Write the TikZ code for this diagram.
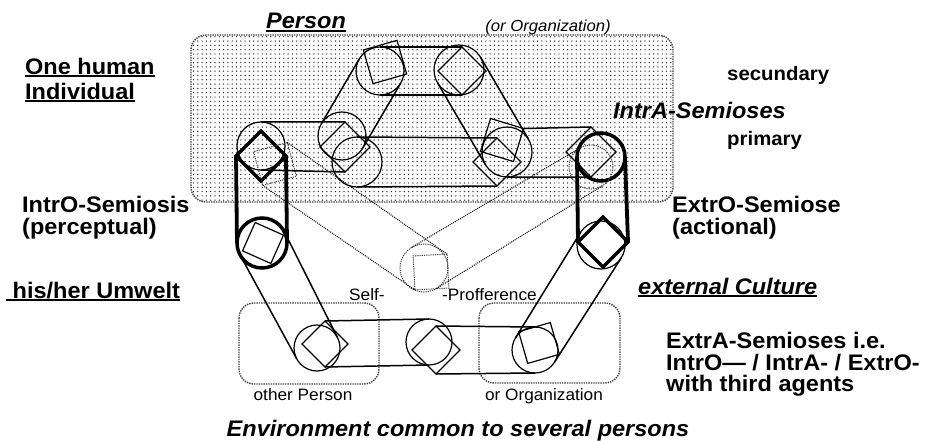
\documentclass[tikz,border=0pt]{standalone}
\usepackage{fontspec}
\setmainfont{Liberation Sans}[FakeStretch=1.045]
\usetikzlibrary{shapes.geometric,patterns.meta}

\newsavebox\ulbox
\newcommand{\ulabel}[1]{\sbox\ulbox{#1}\rlap{\rule[-2.6pt]{\wd\ulbox}{1.8pt}}\usebox\ulbox}
\newcommand{\lblfont}{\fontsize{22.5}{21.5}\selectfont\bfseries}
\newcommand{\smallfont}{\fontsize{16.5}{20}\selectfont}

\begin{document}
\begin{tikzpicture}[x=1pt, y=-1pt,
    ring/.style={circle, draw, line width=1.2pt, inner sep=0pt, outer sep=0pt, minimum size=48pt},
    fatring/.style={ring, line width=3.5pt},
    dotring/.style={ring, densely dotted, line width=1pt, draw=black!75},
    sq/.style={rectangle, draw, line width=1.2pt, inner sep=0pt, outer sep=0pt, minimum size=35pt},
    dotsq/.style={sq, densely dotted, line width=1pt, draw=black!75},
    dia/.style={diamond, draw, line width=1.2pt, inner sep=0pt, outer sep=0pt, minimum width=50pt, minimum height=50pt},
    fatdia/.style={dia, line width=3.5pt},
    band/.style={line width=1.5pt},
    fatband/.style={line width=3.8pt},
    dotband/.style={densely dotted, line width=1pt},
    frame/.style={rounded corners=15pt, densely dotted, line width=1.4pt, draw=black!75},
    lbl/.style={inner sep=0pt, anchor=base west, font=\lblfont}]

  \fill[white] (0,0) rectangle (931,441);
  \useasboundingbox (0,0) rectangle (931,441);

  % Frames
  \path[frame, pattern={Dots[distance=4.3pt, radius=0.7pt]}, pattern color=black!85]
    (191,35) rectangle (673,202);
  \draw[frame] (239,303) rectangle (379,384);
  \draw[frame] (479,303) rectangle (620,383);

  % IntrA-Semioses
  \node[ring] (a) at (380,71) {};
  \node[sq, rotate=16] (as) at (385,62) {};
  \node[ring, minimum size=50pt] (b) at (459,70) {};
  \node[dia, minimum width=48pt, minimum height=48pt] (bd) at (462,71) {};
  \node[ring] (c) at (342,136) {};
  \node[dia] (cd) at (345,147) {};
  \node[ring, minimum size=50pt] (d) at (357,162) {};
  \node[ring, minimum size=50pt] (e) at (507,152) {};
  \node[sq, rotate=-17, minimum size=34.5pt] (es) at (502,140) {};
  \node[dia, minimum width=48pt, minimum height=48pt] (ed) at (497,162) {};

  % IntrO side
  \node[ring] (l1) at (261,146) {};
  \node[fatdia] (l1d) at (261,156) {};
  \node[dotsq, rotate=15] (l1s) at (275,164) {};
  \node[fatring, minimum size=50pt] (l2) at (262,243) {};
  \node[sq, rotate=-24, minimum size=31pt] (l2s) at (263,243) {};

  % ExtrO side
  \node[fatring] (r1) at (601,157) {};
  \node[dia] (r1d) at (591,152) {};
  \node[dotring, minimum size=44pt] (r1c) at (591,167) {};
  \node[fatdia] (r2d) at (603,242) {};
  \node[ring] (r2) at (601,245) {};

  % Self-Profference
  \node[dotring] (s) at (424,268) {};
  \node[dotsq, rotate=3, minimum size=34pt] (ss) at (431,272) {};

  % ExtrA-Semioses
  \node[ring, minimum size=46pt] (p1) at (317,348) {};
  \node[dia, minimum width=46pt, minimum height=46pt] (p1d) at (325,344) {};
  \node[ring, minimum size=46pt] (p2) at (429,342) {};
  \node[dia, minimum width=48pt, minimum height=48pt] (p2d) at (436,350) {};
  \node[ring, minimum size=46pt] (p3) at (535,350) {};
  \node[sq, rotate=16, minimum size=33pt] (p3s) at (539,343) {};

  \draw[band] (a.north) -- (bd.north) (a.south) -- (bd.south);
  \draw[band] (a.150) -- (c.150) (a.330) -- (c.330);
  \draw[band] (b.31) -- (e.31) (b.211) -- (e.211);
  \draw[band] (l1.north) -- (cd.north) (l1.south) -- (cd.south);
  \draw[band] (d.north) -- (ed.north) (d.south) -- (ed.south);
  \draw[band] (es.north east) -- (r1d.north) (e.south) -- (r1d.south);
  \draw[fatband] (l1d.west) -- (l2.west) (l1d.east) -- (l2.east);
  \draw[fatband] (r1.west) -- (r2d.west) (r1.east) -- (r2d.east);
  \draw[band] (l2.28) -- (p1.28) (l2.208) -- (p1.208);
  \draw[band] (p1d.north) -- (p2.north) (p1d.south) -- (p2.south);
  \draw[band] (p2d.north) -- (p3.north) (p2d.south) -- (p3.south);
  \draw[band] (p3.148) -- (r2.148) (p3.328) -- (r2.328);
  \draw[dotband] (l1s.north east) -- (ss.north east) (l1s.south west) -- (ss.south west);
  \draw[dotband] (r1c.121) -- (s.121) (r1c.301) -- (s.301);

  % Labels
  \node[lbl, font=\lblfont\itshape] (person) at (266,29) {\ulabel{Person}};
  \node[inner sep=0pt, anchor=base, font=\fontsize{16}{19}\selectfont\itshape] (org) at (548,32) {(or Organization)};
  \node[lbl, align=left, anchor=north west, font=\fontsize{22.5}{25}\selectfont\bfseries] (human) at (25,58)
    {\ulabel{One human}\\\ulabel{Individual}};
  \node[lbl, align=left, anchor=north west] (intro) at (22,196) {IntrO-Semiosis\\(perceptual)};
  \node[lbl] (umwelt) at (6,298) {\ulabel{\ his/her Umwelt}};
  \node[lbl, font=\fontsize{19.5}{22}\selectfont\bfseries] (sec) at (727,81) {secundary};
  \node[lbl, font=\lblfont\itshape] (intra) at (613,118) {IntrA-Semioses};
  \node[lbl, font=\fontsize{19.5}{22}\selectfont\bfseries] (prim) at (727,146) {primary};
  \node[lbl, align=left, anchor=north west] (extro) at (672,196) {ExtrO-Semiose\\(actional)};
  \node[lbl, font=\lblfont\itshape] (culture) at (638,294) {\ulabel{external Culture}};
  \node[lbl, align=left, anchor=north west] (extra) at (666,332)
    {ExtrA-Semioses i.e.\\IntrO— / IntrA- / ExtrO-\\with third agents};
  \node[inner sep=0pt, anchor=base, font=\lblfont\itshape] (env) at (458,436) {Environment common to several persons};
  \node[inner sep=0pt, anchor=base, font=\smallfont] (other) at (303,400) {other Person};
  \node[inner sep=0pt, anchor=base, font=\smallfont] (org2) at (544,400) {or Organization};
  \node[inner sep=0pt, anchor=base west, font=\smallfont] (self) at (349,300) {Self-};
  \node[inner sep=0pt, anchor=base west, font=\smallfont] (proff) at (442,300) {-Profference};
\end{tikzpicture}
\end{document}
